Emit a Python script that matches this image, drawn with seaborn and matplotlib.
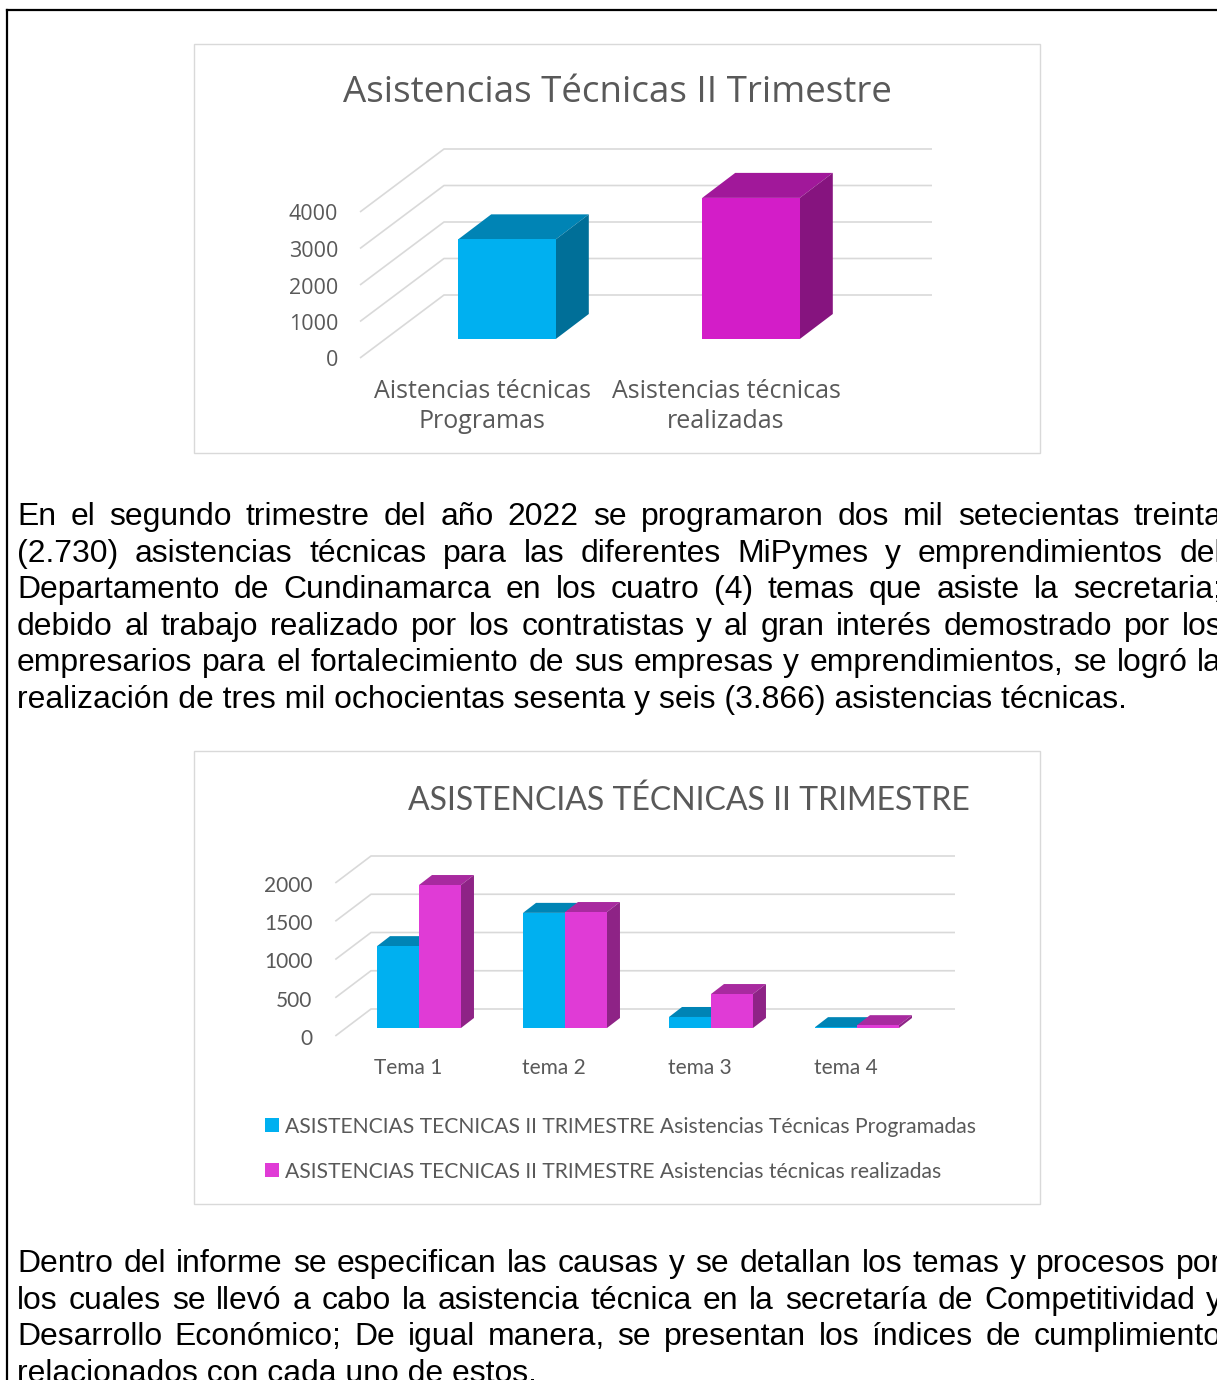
import numpy as np
import pandas as pd
import seaborn as sns
import matplotlib.pyplot as plt
from matplotlib.patches import Polygon, Rectangle
from matplotlib.lines import Line2D
from matplotlib.transforms import offset_copy
from matplotlib.colors import to_hex

W, H = 1217, 1380

# chart 1 data
cats1 = ["Aistencias técnicas\nProgramas", "Asistencias técnicas\nrealizadas"]
vals1 = [2730, 3866]
ticks1 = [0, 1000, 2000, 3000, 4000]
title1 = "Asistencias Técnicas II Trimestre"

# chart 2 data
temas = ["Tema 1", "tema 2", "tema 3", "tema 4"]
programadas = [1070, 1505, 144, 11]
realizadas = [1869, 1516, 444, 37]
ticks2 = [0, 500, 1000, 1500, 2000]
series = ["ASISTENCIAS TECNICAS II TRIMESTRE Asistencias Técnicas Programadas",
          "ASISTENCIAS TECNICAS II TRIMESTRE Asistencias técnicas realizadas"]
title2 = "ASISTENCIAS TÉCNICAS II TRIMESTRE"

par1 = ["En el segundo trimestre del año 2022 se programaron dos mil setecientas treinta",
        "(2.730) asistencias técnicas para las diferentes MiPymes y emprendimientos del",
        "Departamento de Cundinamarca en los cuatro (4) temas que asiste la secretaria;",
        "debido al trabajo realizado por los contratistas y al gran interés demostrado por los",
        "empresarios para el fortalecimiento de sus empresas y emprendimientos, se logró la",
        "realización de tres mil ochocientas sesenta y seis (3.866) asistencias técnicas."]
par2 = ["Dentro del informe se especifican las causas y se detallan los temas y procesos por",
        "los cuales se llevó a cabo la asistencia técnica en la secretaría de Competitividad y",
        "Desarrollo Económico; De igual manera, se presentan los índices de cumplimiento",
        "relacionados con cada uno de estos."]

BLUE = "#00B0F0"
MAG1 = "#D31DC8"
MAG2 = "#E03BD6"
shades = {BLUE: ("#0084B5", "#006F98"),
          MAG1: ("#A1189A", "#86147F"),
          MAG2: ("#A82A9F", "#8E2386")}
GRID = "#D9D9D9"
TXT = "#595959"


def fx(x):
    return x / W


def fy(y):
    return 1 - y / H


fig = plt.figure(figsize=(W / 100, H / 100), dpi=100)
renderer = fig.canvas.get_renderer()


def axes_px(left, right, bottom, top):
    return fig.add_axes([fx(left), fy(bottom), (right - left) / W, (bottom - top) / H])


def px2data(ax, dx, dy):
    x0, x1 = ax.get_xlim()
    y0, y1 = ax.get_ylim()
    bb = ax.get_position()
    return dx * (x1 - x0) / (bb.width * W), dy * (y1 - y0) / (bb.height * H)


def extrude(ax, depth):
    ddx, ddy = px2data(ax, *depth)
    for p in list(ax.patches):
        top, side = shades[to_hex(p.get_facecolor()).upper()]
        x0, w, h = p.get_x(), p.get_width(), p.get_height()
        ax.add_patch(Polygon([(x0, h), (x0 + w, h), (x0 + w + ddx, h + ddy), (x0 + ddx, h + ddy)],
                             fc=top, ec="none", zorder=2, clip_on=False))
        ax.add_patch(Polygon([(x0 + w, 0), (x0 + w + ddx, ddy), (x0 + w + ddx, h + ddy), (x0 + w, h)],
                             fc=side, ec="none", zorder=2, clip_on=False))
        p.set_zorder(3)
        p.set_clip_on(False)


def walls(ax, ticks, front, back, right_px, gap, font, size):
    fdx, fdy = px2data(ax, *front)
    bdx, bdy = px2data(ax, *back)
    xl = ax.get_xlim()[0]
    bb = ax.get_position()
    sx = (ax.get_xlim()[1] - xl) / (bb.width * W)
    xr = xl + (right_px - bb.x0 * W) * sx
    lab = offset_copy(ax.transData, fig, x=-gap, y=-3, units="dots")
    for v in ticks:
        ax.plot([xl + fdx, xl + bdx, xr], [v + fdy, v + bdy, v + bdy], color=GRID,
                lw=1.2, zorder=0.5, clip_on=False, solid_capstyle="butt")
        ax.text(xl + fdx, v + fdy, str(v), transform=lab, ha="right", va="center",
                fontsize=size, family=font, color=TXT)


def cat_labels(ax, labels, front, drops, font, size):
    fdx, fdy = px2data(ax, *front)
    for i, lab in enumerate(labels):
        for line, d in zip(lab.split("\n"), drops):
            tr = offset_copy(ax.transData, fig, x=0, y=-d, units="dots")
            ax.text(i + fdx, fdy, line, transform=tr, ha="center", va="center",
                    fontsize=size, family=font, color=TXT)


# page border and chart frames
fig.add_artist(Line2D([fx(7), fx(7)], [fy(10), fy(1380)], color="black", lw=1.6))
fig.add_artist(Line2D([fx(7), fx(1217)], [fy(10), fy(10)], color="black", lw=1.6))
for (l, t, r, b) in [(194, 44, 1040, 453), (194, 751, 1040, 1204)]:
    fig.add_artist(Rectangle((fx(l), fy(b)), (r - l) / W, (b - t) / H, fill=False,
                             ec=GRID, lw=1.0, transform=fig.transFigure))

# chart 1
ax1 = axes_px(385, 873, 339, 339 - 4500 * 0.0365)
sns.barplot(x=cats1, y=vals1, hue=cats1, palette=[BLUE, MAG1], width=0.4,
            saturation=1, legend=False, ax=ax1)
ax1.set_xlim(-0.5, 1.5)
ax1.set_ylim(0, 4500)
ax1.set_axis_off()
walls(ax1, ticks1, (-25, -19), (59, 44), 932, 22, "Open Sans", 15.5)
extrude(ax1, (33, 25))
cat_labels(ax1, cats1, (-25, -19), [34, 63], "Open Sans", 18)
fig.text(fx(617), fy(102), title1, ha="center", va="baseline", fontsize=26.5,
         family="Open Sans", color=TXT)

# chart 2
df2 = pd.DataFrame({"tema": temas * 2,
                    "valor": programadas + realizadas,
                    "serie": [series[0]] * 4 + [series[1]] * 4})
ax2 = axes_px(346, 930, 1028, 1028 - 2200 * 0.0765)
sns.barplot(data=df2, x="tema", y="valor", hue="serie", palette=[BLUE, MAG2],
            width=0.575, saturation=1, legend=False, ax=ax2)
ax2.set_xlim(-0.5, 3.5)
ax2.set_ylim(0, 2200)
ax2.set_axis_off()
walls(ax2, ticks2, (-10.7, -8), (25, 19), 955, 23, "Lato", 15)
extrude(ax2, (13, 10))
cat_labels(ax2, temas, (-10.7, -8), [32], "Lato", 15)
fig.text(fx(689), fy(810), title2, ha="center", va="baseline", fontsize=23,
         family="Lato", color=TXT)

for s, c, yc in zip(series, [BLUE, MAG2], [1125, 1170]):
    fig.add_artist(Rectangle((fx(265), fy(yc + 7)), 14 / W, 14 / H, fc=c, ec="none",
                             transform=fig.transFigure))
    fig.text(fx(285), fy(yc + 2), s, ha="left", va="center", fontsize=15.2,
             family="Lato", color=TXT)


# justified paragraphs
def word_width(word, size):
    t = fig.text(0, 0, word, fontsize=size, family="Liberation Sans")
    w = t.get_window_extent(renderer).width
    t.remove()
    return w


def paragraph(lines, y0, step, x0=17, x1=1222, size=22.95):
    for i, line in enumerate(lines):
        y = y0 + i * step
        if i == len(lines) - 1:
            fig.text(fx(x0), fy(y), line, fontsize=size, family="Liberation Sans",
                     va="baseline", color="black")
            continue
        words = line.split()
        widths = [word_width(w, size) for w in words]
        gap = (x1 - x0 - sum(widths)) / (len(words) - 1)
        x = x0
        for w, wd in zip(words, widths):
            fig.text(fx(x), fy(y), w, fontsize=size, family="Liberation Sans",
                     va="baseline", color="black")
            x += wd + gap


paragraph(par1, 525, 36.6)
paragraph(par2, 1272, 36.6)

fig.savefig("out.png", dpi=100)
